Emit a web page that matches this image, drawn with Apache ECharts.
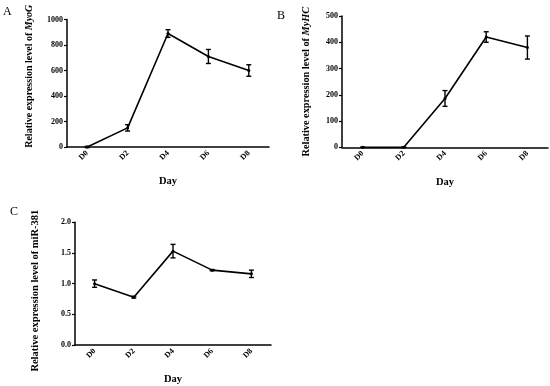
<!DOCTYPE html>
<html><head><meta charset="utf-8">
<script src="https://cdn.jsdelivr.net/npm/echarts@6/dist/echarts.min.js"></script>
<style>html,body{margin:0;padding:0;background:#fff}#c{width:550px;height:386px}</style>
</head><body><div id="c"></div>
<script>
var days = ['D0','D2','D4','D6','D8'];
var myogMean = [0, 150, 890, 710, 600];
var myogErr = [5, 25, 30, 55, 45];
var myhcMean = [0, 0, 186, 420, 380];
var myhcErr = [0, 0, 30, 20, 44];
var mirMean = [1.0, 0.78, 1.53, 1.22, 1.16];
var mirErr = [0.06, 0.015, 0.11, 0.01, 0.06];

var FONT = '"Liberation Serif","Times New Roman",serif';
var chart = echarts.init(document.getElementById('c'));

function xAx(gi){
  return {type:'category', gridIndex:gi, data:days, boundaryGap:true,
    axisLine:{lineStyle:{color:'#000',width:1.5}},
    axisTick:{alignWithLabel:true, length:3, lineStyle:{color:'#000',width:1.2}},
    axisLabel:{rotate:45, color:'#000', fontFamily:FONT, fontWeight:'bold', fontSize:8, margin:5},
    name:'Day', nameLocation:'middle', nameGap:29,
    nameTextStyle:{color:'#000', fontFamily:FONT, fontWeight:'bold', fontSize:10.5}};
}
function yAx(gi, max, interval, gene, italic, fmt, fs, gap, pad){
  return {type:'value', gridIndex:gi, min:0, max:max, interval:interval,
    splitLine:{show:false},
    axisLine:{show:true, lineStyle:{color:'#000',width:1.5}},
    axisTick:{show:true, length:3, lineStyle:{color:'#000',width:1.2}},
    axisLabel:{color:'#000', fontFamily:FONT, fontWeight:'bold', fontSize:8, margin:4, formatter:fmt},
    name: italic ? '{n|Relative expression level of }{i|' + gene + '}' : '{n|Relative expression level of ' + gene + '}',
    nameLocation:'middle', nameRotate:90, nameGap:gap,
    nameTextStyle:{color:'#000', fontFamily:FONT, fontSize:fs, padding:pad,
      rich:{n:{fontFamily:FONT, fontWeight:'bold', fontSize:fs, color:'#000'},
            i:{fontFamily:FONT, fontWeight:'bold', fontStyle:'italic', fontSize:fs, color:'#000'}}}};
}
function lineS(gi, data){
  return {type:'line', xAxisIndex:gi, yAxisIndex:gi, data:data, symbol:'circle', symbolSize:3,
    itemStyle:{color:'#000'}, lineStyle:{color:'#000', width:1.6}, silent:true, z:3};
}
function errS(gi, mean, err){
  var d = mean.map(function(m,i){return [i, m-err[i], m+err[i]];});
  return {type:'custom', xAxisIndex:gi, yAxisIndex:gi, data:d, silent:true, z:4,
    renderItem:function(params, api){
      var x = api.value(0);
      var lo = api.coord([x, api.value(1)]);
      var hi = api.coord([x, api.value(2)]);
      var w = 2.5;
      var st = {stroke:'#000', lineWidth:1.4};
      return {type:'group', children:[
        {type:'line', shape:{x1:lo[0],y1:lo[1],x2:hi[0],y2:hi[1]}, style:st},
        {type:'line', shape:{x1:lo[0]-w,y1:lo[1],x2:lo[0]+w,y2:lo[1]}, style:st},
        {type:'line', shape:{x1:hi[0]-w,y1:hi[1],x2:hi[0]+w,y2:hi[1]}, style:st}
      ]};
    }};
}
var fmt0 = function(v){return String(v);};
var fmt1 = function(v){return v.toFixed(1);};
chart.setOption({
  backgroundColor:'#fff',
  animation:false,
  grid:[
    {left:67, top:19.5, width:202, height:127.5},
    {left:342, top:16, width:206, height:131.3},
    {left:75, top:222.3, width:196, height:124.7}
  ],
  xAxis:[xAx(0), xAx(1), xAx(2)],
  yAxis:[yAx(0,1000,200,'MyoG',true,fmt0,10,33,[0,0,0,14]),
         yAx(1,500,100,'MyHC',true,fmt0,10.3,31,[0,0,0,0]),
         yAx(2,2.0,0.5,'miR-381',false,fmt1,10.5,34,[0,14,0,0])],
  series:[lineS(0,myogMean), errS(0,myogMean,myogErr),
          lineS(1,myhcMean), errS(1,myhcMean,myhcErr),
          lineS(2,mirMean), errS(2,mirMean,mirErr)],
  graphic:[
    {type:'text', left:3, top:6, style:{text:'A', font:'12px '+FONT, fill:'#000'}},
    {type:'text', left:277, top:10, style:{text:'B', font:'12px '+FONT, fill:'#000'}},
    {type:'text', left:10, top:206, style:{text:'C', font:'12px '+FONT, fill:'#000'}}
  ]
});
</script></body></html>
